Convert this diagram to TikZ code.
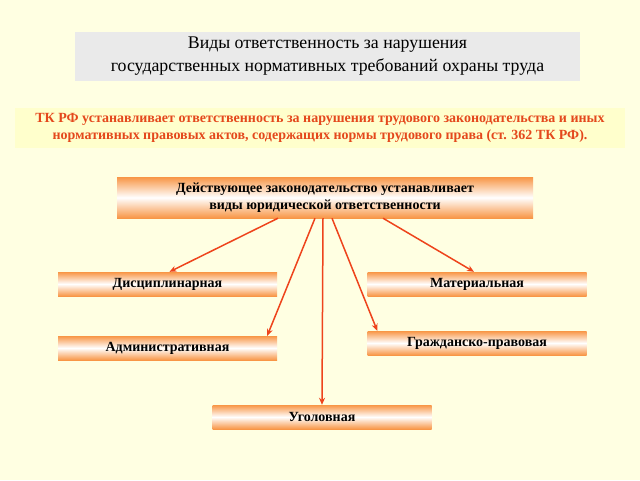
\documentclass[tikz,border=0pt]{standalone}
\usepackage{fontspec}
\setmainfont{Liberation Serif}
\usepackage{xcolor}
\usetikzlibrary{arrows.meta}

\definecolor{bgyellow}{RGB}{255,255,226}
\definecolor{bandyellow}{RGB}{255,255,204}
\definecolor{titlegray}{RGB}{234,234,234}
\definecolor{redtext}{RGB}{228,72,28}
\definecolor{arrowred}{RGB}{238,68,28}
\definecolor{boxorange}{RGB}{248,150,70}

\tikzset{
  gradbox/.style={shade, top color=boxorange, bottom color=boxorange, middle color=white,
    minimum height=24pt, minimum width=219pt, inner sep=0pt, font=\fontsize{14}{16}\selectfont\bfseries},
  linkarrow/.style={draw=arrowred, line width=1.5pt, -{Stealth[length=7pt,width=6pt]}}
}

\begin{document}
\begin{tikzpicture}[x=1pt,y=1pt,yscale=-1,xscale=1]
%Background
\fill[bgyellow] (0,0) rectangle (640,480);
\useasboundingbox (0,0) rectangle (640,480);

%Shape: Title box
\node (title) [fill=titlegray, minimum width=505pt, minimum height=49pt, inner sep=0pt, align=center,
  font=\fontsize{17.8}{23}\selectfont] at (327.5,56.5)
  {Виды ответственность за нарушения\\ государственных нормативных требований охраны труда};

%Shape: Red text band
\node (law) [fill=bandyellow, minimum width=610pt, minimum height=40pt, inner sep=0pt, align=center,
  text=redtext, font=\fontsize{14}{17}\selectfont\bfseries] at (320,128)
  {ТК РФ устанавливает ответственность за нарушения трудового законодательства и иных\\
   нормативных правовых актов, содержащих нормы трудового права (ст. 362 ТК РФ).};

%Shape: Main box
\node (main) [gradbox, minimum width=416pt, minimum height=41pt, align=center,
  font=\fontsize{14}{17}\selectfont\bfseries] at (325,197.5)
  {Действующее законодательство устанавливает\\ виды юридической ответственности};

%Shapes: kinds of liability
\node (disc) [gradbox] at (167.5,284) {Дисциплинарная};
\node (mat) [gradbox] at (477,284) {Материальная};
\node (adm) [gradbox] at (167.5,348) {Административная};
\node (civ) [gradbox] at (477,343) {Гражданско-правовая};
\node (crim) [gradbox] at (322,417) {Уголовная};

%Connectors
\draw[linkarrow] ([xshift=-47pt]main.south) -- ([xshift=2pt]disc.north);
\draw[linkarrow] ([xshift=-10pt]main.south) -- ([xshift=-10pt]adm.north east);
\draw[linkarrow] ([xshift=-2pt]main.south) -- (crim.north);
\draw[linkarrow] ([xshift=7pt]main.south) -- ([xshift=10pt]civ.north west);
\draw[linkarrow] ([xshift=58pt]main.south) -- ([xshift=-3pt]mat.north);
\end{tikzpicture}
\end{document}
